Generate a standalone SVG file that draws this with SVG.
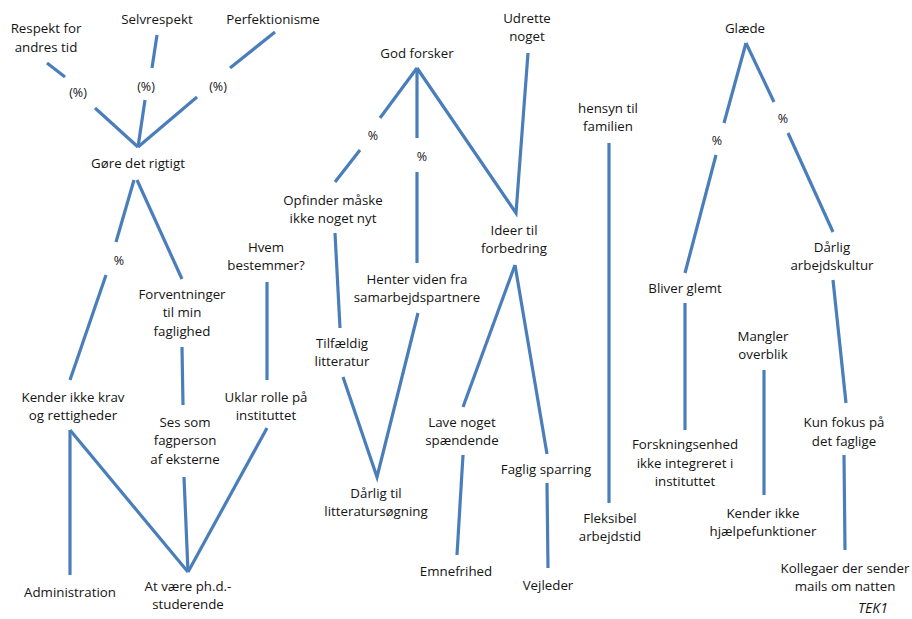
<svg xmlns="http://www.w3.org/2000/svg" width="912" height="619" viewBox="0 0 912 619">
  <style>
    text { font-family: "Open Sans", "Noto Sans", "Liberation Sans", sans-serif; font-size: 13.3px; fill: #141414; text-anchor: middle; }
    .pct { font-size: 12.5px; }
    .tag { font-style: italic; font-size: 14px; }
    #connectors line, #connectors polyline { stroke: #4a7ebb; stroke-width: 3.2; fill: none; stroke-linecap: butt; stroke-linejoin: miter; }
  </style>
  <defs>
    <filter id="soft" x="-5%" y="-5%" width="110%" height="110%">
      <feGaussianBlur stdDeviation="0.45"/>
    </filter>
  </defs>
  <rect width="912" height="619" fill="#ffffff"/>

  <!-- connectors (gaps leave room for the % labels) -->
  <g id="connectors" filter="url(#soft)">
    <!-- left tree -->
    <line x1="47" y1="63" x2="65" y2="77"/>
    <line x1="95" y1="108" x2="138" y2="147"/>
    <line x1="157" y1="35" x2="152" y2="68"/>
    <line x1="145" y1="100" x2="138" y2="147"/>
    <line x1="275" y1="32" x2="230" y2="68"/>
    <line x1="197" y1="97" x2="138" y2="147"/>
    <line x1="134" y1="180" x2="116" y2="242"/>
    <line x1="106" y1="275" x2="70" y2="380"/>
    <line x1="137" y1="180" x2="182" y2="279"/>
    <line x1="182" y1="347" x2="183" y2="405"/>
    <line x1="267" y1="282" x2="267" y2="380"/>
    <line x1="70" y1="430" x2="70" y2="575"/>
    <line x1="70" y1="430" x2="188" y2="572"/>
    <line x1="184" y1="477" x2="188" y2="572"/>
    <line x1="188" y1="572" x2="267" y2="428"/>
    <!-- middle tree -->
    <line x1="417" y1="68" x2="380" y2="118"/>
    <line x1="360" y1="150" x2="335" y2="182"/>
    <line x1="417" y1="68" x2="417" y2="138"/>
    <line x1="417" y1="172" x2="417" y2="263"/>
    <polyline points="417,68 516,213 528,53"/>
    <line x1="335" y1="233" x2="340" y2="328"/>
    <polyline points="343,377 377,477 418,313"/>
    <line x1="515" y1="265" x2="463" y2="407"/>
    <line x1="515" y1="265" x2="547" y2="454"/>
    <line x1="463" y1="455" x2="457" y2="555"/>
    <line x1="547" y1="483" x2="548" y2="568"/>
    <line x1="609" y1="143" x2="609" y2="503"/>
    <!-- right tree -->
    <line x1="746" y1="43" x2="724" y2="123"/>
    <line x1="716" y1="155" x2="685" y2="273"/>
    <line x1="746" y1="43" x2="774" y2="102"/>
    <line x1="788" y1="133" x2="833" y2="232"/>
    <line x1="685" y1="303" x2="685" y2="430"/>
    <line x1="833" y1="280" x2="846" y2="403"/>
    <line x1="764" y1="370" x2="764" y2="495"/>
    <line x1="844" y1="455" x2="845" y2="550"/>
  </g>

  <!-- percentage labels -->
  <g id="pct-labels">
    <text class="pct" x="78" y="97">(%)</text>
    <text class="pct" x="146" y="91">(%)</text>
    <text class="pct" x="218" y="91">(%)</text>
    <text class="pct" x="119" y="265">%</text>
    <text class="pct" x="373" y="140">%</text>
    <text class="pct" x="422" y="161">%</text>
    <text class="pct" x="717" y="145">%</text>
    <text class="pct" x="783" y="123">%</text>
  </g>

  <!-- left tree nodes -->
  <g id="respekt"><text x="46" y="33">Respekt for</text><text x="46" y="52">andres tid</text></g>
  <g id="selvrespekt"><text x="157" y="24">Selvrespekt</text></g>
  <g id="perfektionisme"><text x="273" y="24">Perfektionisme</text></g>
  <g id="goere-det-rigtigt"><text x="138" y="168">Gøre det rigtigt</text></g>
  <g id="forventninger"><text x="182" y="299">Forventninger</text><text x="182" y="317">til min</text><text x="182" y="336">faglighed</text></g>
  <g id="hvem-bestemmer"><text x="266" y="252">Hvem</text><text x="266" y="270">bestemmer?</text></g>
  <g id="kender-ikke-krav"><text x="73" y="402">Kender ikke krav</text><text x="73" y="420">og rettigheder</text></g>
  <g id="uklar-rolle"><text x="266" y="402">Uklar rolle på</text><text x="266" y="420">instituttet</text></g>
  <g id="ses-som-fagperson"><text x="185" y="427">Ses som</text><text x="185" y="445">fagperson</text><text x="185" y="464">af eksterne</text></g>
  <g id="administration"><text x="70" y="597">Administration</text></g>
  <g id="phd-studerende"><text x="188" y="591">At være ph.d.-</text><text x="188" y="609">studerende</text></g>

  <!-- middle tree nodes -->
  <g id="god-forsker"><text x="417" y="58">God forsker</text></g>
  <g id="udrette-noget"><text x="527" y="23">Udrette</text><text x="527" y="41">noget</text></g>
  <g id="opfinder"><text x="333" y="205">Opfinder måske</text><text x="333" y="223">ikke noget nyt</text></g>
  <g id="henter-viden"><text x="417" y="284">Henter viden fra</text><text x="417" y="302">samarbejdspartnere</text></g>
  <g id="ideer"><text x="514" y="235">Ideer til</text><text x="514" y="253">forbedring</text></g>
  <g id="tilfaeldig"><text x="342" y="348">Tilfældig</text><text x="342" y="366">litteratur</text></g>
  <g id="daarlig-litteratur"><text x="376" y="498">Dårlig til</text><text x="376" y="516">litteratursøgning</text></g>
  <g id="lave-noget"><text x="462" y="427">Lave noget</text><text x="462" y="445">spændende</text></g>
  <g id="faglig-sparring"><text x="546" y="474">Faglig sparring</text></g>
  <g id="emnefrihed"><text x="456" y="576">Emnefrihed</text></g>
  <g id="vejleder"><text x="548" y="590">Vejleder</text></g>
  <g id="hensyn"><text x="608" y="113">hensyn til</text><text x="608" y="131">familien</text></g>
  <g id="fleksibel"><text x="610" y="523">Fleksibel</text><text x="610" y="541">arbejdstid</text></g>

  <!-- right tree nodes -->
  <g id="glaede"><text x="745" y="33">Glæde</text></g>
  <g id="bliver-glemt"><text x="685" y="293">Bliver glemt</text></g>
  <g id="daarlig-arbejdskultur"><text x="832" y="252">Dårlig</text><text x="832" y="270">arbejdskultur</text></g>
  <g id="mangler-overblik"><text x="763" y="341">Mangler</text><text x="763" y="359">overblik</text></g>
  <g id="forskningsenhed"><text x="685" y="449">Forskningsenhed</text><text x="685" y="468">ikke integreret i</text><text x="685" y="486">instituttet</text></g>
  <g id="kun-fokus"><text x="844" y="427">Kun fokus på</text><text x="844" y="446">det faglige</text></g>
  <g id="hjaelpefunktioner"><text x="763" y="518">Kender ikke</text><text x="763" y="536">hjælpefunktioner</text></g>
  <g id="kollegaer"><text x="845" y="573">Kollegaer der sender</text><text x="845" y="591">mails om natten</text></g>
  <g id="tek1"><text class="tag" x="873" y="613">TEK1</text></g>
</svg>
